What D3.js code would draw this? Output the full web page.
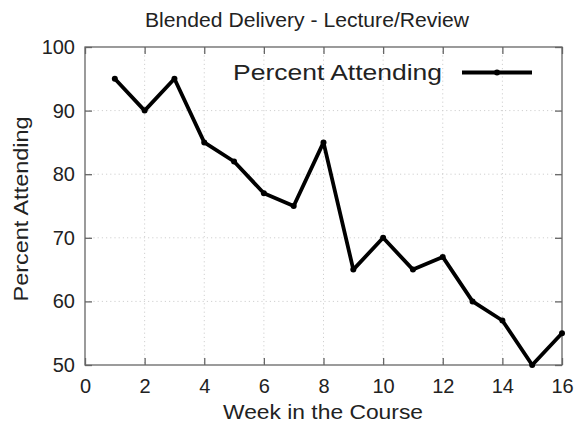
<!DOCTYPE html>
<html>
<head>
<meta charset="utf-8">
<script src="https://cdn.jsdelivr.net/npm/d3@7"></script>
<style>
  html, body { margin: 0; padding: 0; background: #fff; }
  svg text { font-family: "Liberation Sans", Arial, Helvetica, sans-serif; fill: #222; }
</style>
</head>
<body>
<svg id="chart" width="579" height="423"></svg>
<script>
const weeks = [1, 2, 3, 4, 5, 6, 7, 8, 9, 10, 11, 12, 13, 14, 15, 16];
const percentAttending = [95, 90, 95, 85, 82, 77, 75, 85, 65, 70, 65, 67, 60, 57, 50, 55];
const xTicks = [0, 2, 4, 6, 8, 10, 12, 14, 16];
const yTicks = [50, 60, 70, 80, 90, 100];
const titleText = "Blended Delivery - Lecture/Review";
const xLabel = "Week in the Course";
const yLabel = "Percent Attending";
const seriesName = "Percent Attending";

(function () {
const svg = d3.select("#chart");
const pL = 85, pR = 562, pT = 47, pB = 365;

const x = d3.scaleLinear().domain([0, 16]).range([pL, pR]);
const y = d3.scaleLinear().domain([50, 100]).range([pB, pT]);

svg.append("rect").attr("width", 579).attr("height", 423).attr("fill", "#fff");

// grid
const grid = svg.append("g");
grid.selectAll(".gx").data(xTicks.filter(d => d > 0 && d < 16)).enter().append("line")
  .attr("x1", d => x(d)).attr("x2", d => x(d)).attr("y1", pT).attr("y2", pB)
  .attr("stroke", "#d0d0d0").attr("stroke-width", 1).attr("stroke-dasharray", "1.2,3");
grid.selectAll(".gy").data(yTicks.filter(d => d > 50 && d < 100)).enter().append("line")
  .attr("y1", d => y(d)).attr("y2", d => y(d)).attr("x1", pL).attr("x2", pR)
  .attr("stroke", "#d0d0d0").attr("stroke-width", 1).attr("stroke-dasharray", "1.2,3");

// axes with inward ticks on all sides
const tickLen = 7;
const axisColor = "#666";
function styleAxis(g) {
  g.select(".domain").remove();
  g.selectAll(".tick line").attr("stroke", axisColor).attr("stroke-width", 1.3);
  g.selectAll(".tick text").attr("font-size", 20).attr("fill", "#222")
    .attr("font-family", "'Liberation Sans', Arial, sans-serif");
}
svg.append("g").attr("transform", `translate(0,${pB})`)
  .call(d3.axisBottom(x).tickValues(xTicks).tickSizeInner(-tickLen).tickSizeOuter(0).tickPadding(14))
  .call(styleAxis);
svg.append("g").attr("transform", `translate(0,${pT})`)
  .call(d3.axisTop(x).tickValues(xTicks).tickSizeInner(-tickLen).tickSizeOuter(0).tickFormat(""))
  .call(styleAxis);
svg.append("g").attr("transform", `translate(${pL},0)`)
  .call(d3.axisLeft(y).tickValues(yTicks).tickSizeInner(-tickLen).tickSizeOuter(0).tickPadding(10))
  .call(styleAxis);
svg.append("g").attr("transform", `translate(${pR},0)`)
  .call(d3.axisRight(y).tickValues(yTicks).tickSizeInner(-tickLen).tickSizeOuter(0).tickFormat(""))
  .call(styleAxis);

// frame
svg.append("rect").attr("x", pL).attr("y", pT).attr("width", pR - pL).attr("height", pB - pT)
  .attr("fill", "none").attr("stroke", axisColor).attr("stroke-width", 1.3);

// data line
const data = weeks.map((w, i) => ({ w, v: percentAttending[i] }));
svg.append("path").datum(data)
  .attr("d", d3.line().x(d => x(d.w)).y(d => y(d.v)))
  .attr("fill", "none").attr("stroke", "#000").attr("stroke-width", 3.8)
  .attr("stroke-linejoin", "round");
svg.selectAll(".pt").data(data).enter().append("circle")
  .attr("cx", d => x(d.w)).attr("cy", d => y(d.v)).attr("r", 3).attr("fill", "#000");

// legend
svg.append("text").attr("x", 442).attr("y", 80).attr("text-anchor", "end")
  .attr("font-size", 22).attr("textLength", 209).attr("lengthAdjust", "spacingAndGlyphs")
  .text(seriesName);
svg.append("line").attr("x1", 462).attr("x2", 532).attr("y1", 72.5).attr("y2", 72.5)
  .attr("stroke", "#000").attr("stroke-width", 3.8);
svg.append("circle").attr("cx", 497).attr("cy", 72.5).attr("r", 3).attr("fill", "#000");

// title & labels
svg.append("text").attr("x", 307).attr("y", 27).attr("text-anchor", "middle")
  .attr("font-size", 20).attr("textLength", 324).attr("lengthAdjust", "spacingAndGlyphs")
  .text(titleText);
svg.append("text").attr("x", 323).attr("y", 419).attr("text-anchor", "middle")
  .attr("font-size", 20).attr("textLength", 200).attr("lengthAdjust", "spacingAndGlyphs")
  .text(xLabel);
svg.append("text").attr("transform", "translate(28,209) rotate(-90)").attr("text-anchor", "middle")
  .attr("font-size", 21).attr("textLength", 185).attr("lengthAdjust", "spacingAndGlyphs")
  .text(yLabel);
})();
</script>
</body>
</html>
